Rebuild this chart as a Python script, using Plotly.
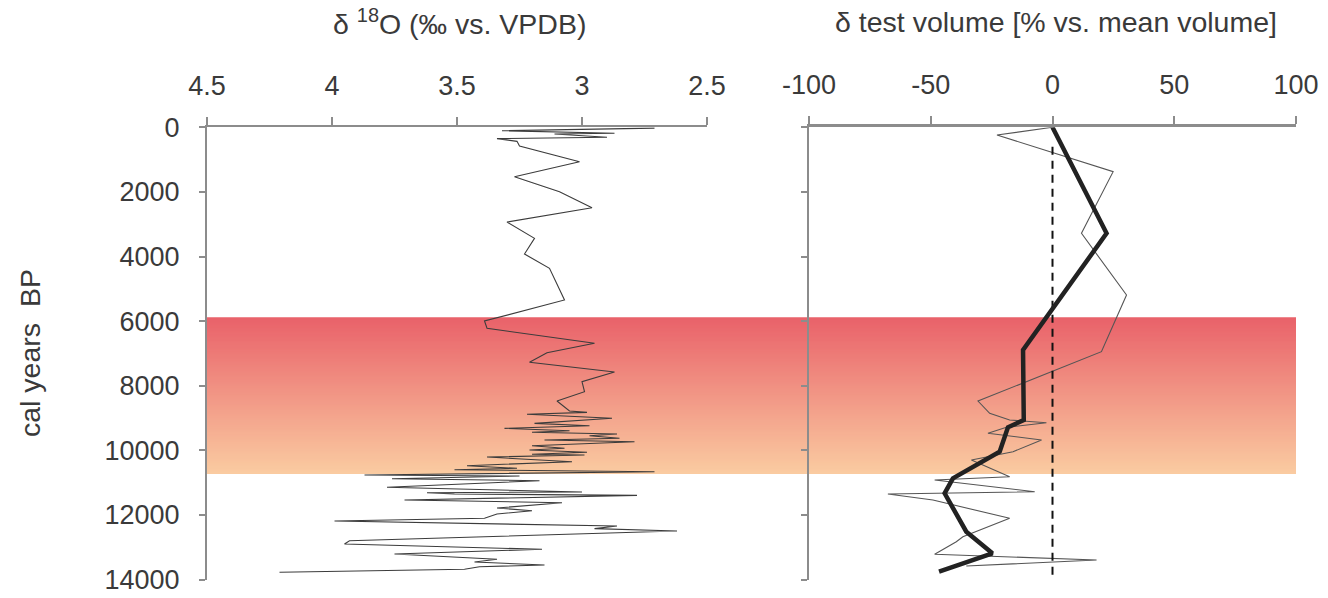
import plotly.graph_objects as go

# ---------------- data ----------------
# delta 18O record (left panel)
d18o_age = [25, 105, 186, 207, 310, 350, 435, 580, 1065, 1530, 1994, 2490, 2932, 3437, 3922, 4366, 5347, 5842,
            5997, 6223, 6688, 6978, 7276, 7576, 7876, 8186, 8474, 8783, 8825, 8886, 9010, 9165, 9240, 9320, 9394,
            9443, 9496, 9548, 9629, 9681, 9733, 9857, 9938, 9991, 10062, 10124, 10146, 10208, 10353, 10477, 10558,
            10601, 10663, 10765, 10796, 10879, 10941, 11146, 11291, 11312, 11353, 11394, 11539, 11622, 11786, 11870,
            11972, 12106, 12189, 12344, 12426, 12498, 12798, 12901, 13065, 13211, 13375, 13458, 13551, 13604, 13684,
            13777]
d18o_val = [2.71, 3.32, 2.87, 3.11, 2.90, 3.34, 3.26, 3.25, 3.01, 3.27, 3.09, 2.96, 3.30, 3.19, 3.23, 3.13, 3.07, 3.32,
            3.39, 3.38, 2.95, 3.14, 3.21, 2.87, 3.00, 2.99, 3.10, 3.05, 2.98, 3.22, 2.88, 3.19, 2.97, 3.31, 3.05,
            3.20, 2.86, 2.97, 2.85, 3.15, 2.79, 3.20, 3.07, 3.21, 2.98, 3.20, 2.99, 3.38, 3.04, 3.46, 3.26,
            3.51, 2.71, 3.87, 3.25, 3.76, 3.17, 3.78, 3.00, 3.62, 3.51, 2.78, 3.71, 3.08, 3.34, 3.20,
            3.34, 3.39, 3.99, 2.86, 2.95, 2.62, 3.93, 3.95, 3.16, 3.75, 3.34, 3.43, 3.15, 3.41, 3.47,
            4.21]

# test volume: single samples (thin) and smoothed mean (thick)
vol_age = [0, 238, 1374, 3282, 5192, 6947, 8474, 8855, 9062, 9145, 9288, 9474, 9681, 10043, 10300, 10817,
           10920, 11282, 11353, 11539, 12106, 12675, 12830, 13220, 13396, 13582]
vol_val = [0, -22.8, 24.9, 11.9, 30.4, 20.1, -30.6, -25.8, -17.6, -2.5, -18.9, -26.5, -4.5, -16.2, -33.3, -17.6,
           -48.4, -7.3, -67.6, -49.1, -17.6, -36.8, -39.5, -48.4, 18.1, -35.4]

mean_age = [0, 3282, 6895, 9062, 9288, 10043, 10867, 11331, 12520, 13189, 13758]
mean_val = [0, 22.2, -12.1, -11.8, -18.3, -21.7, -40.9, -44.3, -35.4, -24.7, -46.6]

zero_line_age = [600, 14000]
zero_line_val = [0, 0]

band_top, band_bottom = 5880, 10730

y_ticks = [0, 2000, 4000, 6000, 8000, 10000, 12000, 14000]
x1_ticks = [4.5, 4, 3.5, 3, 2.5]
x1_ticktext = ["4.5", "4", "3.5", "3", "2.5"]
x2_ticks = [-100, -50, 0, 50, 100]
x2_ticktext = ["-100", "-50", "0", "50", "100"]

# ---------------- layout geometry ----------------
W, H = 1328, 598
FONT = "Liberation Sans, Arial, sans-serif"
TXT = "#3a3a3a"
AX = "#8c8c8c"
FS = 27
FS_T = 28.5

x1_dom = [207 / W, 707 / W]
x2_dom = [809 / W, 1296 / W]
y_dom = [1 - 579.5 / H, 1 - 127.3 / H]

fig = go.Figure()

fig.add_trace(go.Scatter(x=d18o_val, y=d18o_age, mode="lines", xaxis="x", yaxis="y",
                         line=dict(color="#3c3c3c", width=1.1), showlegend=False, hoverinfo="skip"))
fig.add_trace(go.Scatter(x=vol_val, y=vol_age, mode="lines", xaxis="x2", yaxis="y2",
                         line=dict(color="#555555", width=1.1), showlegend=False))
fig.add_trace(go.Scatter(x=zero_line_val, y=zero_line_age, mode="lines", xaxis="x2", yaxis="y2",
                         line=dict(color="#111111", width=2, dash="8px,6px"), showlegend=False))
fig.add_trace(go.Scatter(x=mean_val, y=mean_age, mode="lines", xaxis="x2", yaxis="y2",
                         line=dict(color="#222222", width=4.5), showlegend=False))

# gradient band (stacked stripes, each to the band bottom)
c_top = (233, 98, 106)
c_bot = (250, 203, 161)
N = 120
shapes = []
for i in range(N):
    f = i / (N - 1)
    col = tuple(round(c_top[k] + (c_bot[k] - c_top[k]) * f) for k in range(3))
    y0 = band_top + (band_bottom - band_top) * i / N
    shapes.append(dict(type="rect", xref="paper", yref="y", x0=207 / W, x1=1296 / W,
                       y0=y0, y1=band_bottom, fillcolor="rgb(%d,%d,%d)" % col,
                       line=dict(width=0), layer="below"))

axis_common = dict(showgrid=False, zeroline=False, showline=True, linecolor=AX, ticks="outside",
                   tickcolor=AX, automargin=False, tickfont=dict(family=FONT, size=FS, color=TXT))

fig.update_layout(
    width=W, height=H, margin=dict(l=0, r=0, t=0, b=0, pad=0, autoexpand=False),
    paper_bgcolor="white", plot_bgcolor="rgba(0,0,0,0)", showlegend=False,
    shapes=shapes,
    xaxis=dict(domain=x1_dom, range=[4.5, 2.5], side="top", anchor="y", tickmode="array",
               tickvals=x1_ticks, ticktext=x1_ticktext, linewidth=2, ticklen=8, tickwidth=2,
               ticklabelstandoff=12, **axis_common),
    yaxis=dict(domain=y_dom, range=[14000, 0], anchor="x", tickmode="array", tickvals=y_ticks,
               ticktext=[str(v) for v in y_ticks], linewidth=2, ticklen=6, tickwidth=2,
               ticklabelstandoff=14, **axis_common),
    xaxis2=dict(domain=x2_dom, range=[-100, 100], side="top", anchor="y2", tickmode="array",
                tickvals=x2_ticks, ticktext=x2_ticktext, linewidth=3, ticklen=8, tickwidth=2,
                ticklabelstandoff=12, **axis_common),
    yaxis2=dict(domain=y_dom, range=[14000, 0], anchor="x2", tickmode="array", tickvals=y_ticks,
                showticklabels=False, linewidth=2, ticklen=6, tickwidth=2, **axis_common),
    annotations=[
        dict(text="δ <sup>18</sup>O (‰ vs. VPDB)", xref="paper", yref="paper", x=459 / W, y=1 - 22 / H,
             showarrow=False, xanchor="center", yanchor="middle", font=dict(family=FONT, size=FS_T, color=TXT)),
        dict(text="δ test volume [% vs. mean volume]", xref="paper", yref="paper", x=1056 / W, y=1 - 22 / H,
             showarrow=False, xanchor="center", yanchor="middle", font=dict(family=FONT, size=FS_T, color=TXT)),
        dict(text="cal years  BP", xref="paper", yref="paper", x=30 / W, y=1 - 353 / H, textangle=-90,
             showarrow=False, xanchor="center", yanchor="middle", font=dict(family=FONT, size=FS_T, color=TXT)),
    ],
)

fig.write_html("out.html")
